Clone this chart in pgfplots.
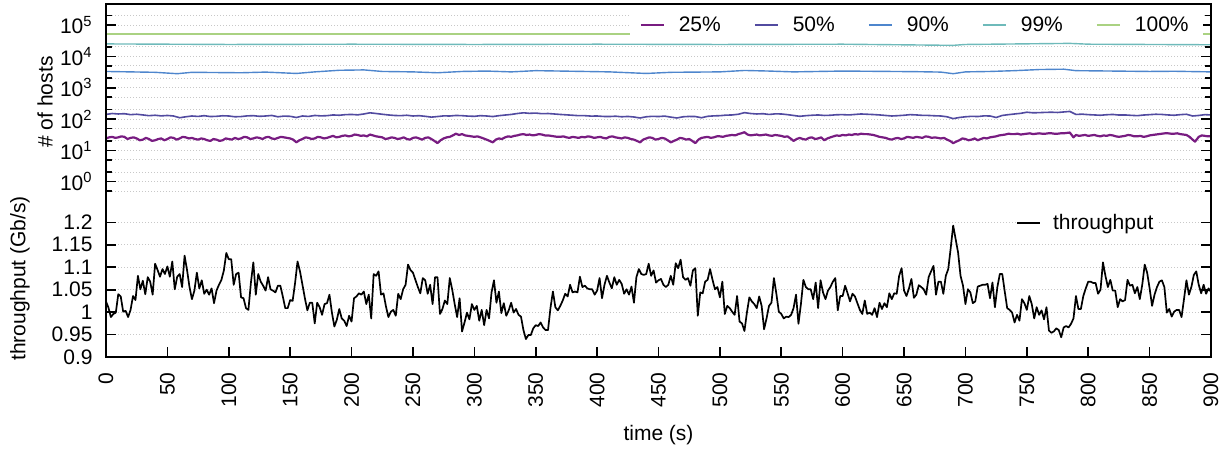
\documentclass[border=0pt]{standalone}
\usepackage{fontspec}
\setmainfont{Liberation Sans}
\usepackage{pgfplots}
\pgfplotsset{compat=1.18}
\usepackage{pgfplotstable}

\definecolor{c25}{RGB}{120,28,129}
\definecolor{c50}{RGB}{82,75,160}
\definecolor{c90}{RGB}{78,134,205}
\definecolor{c99}{RGB}{110,186,186}
\definecolor{c100}{RGB}{170,210,130}
\definecolor{gridgray}{RGB}{200,200,200}

% number of hosts per percentile
\pgfplotstableread{
t v
0 24
2.5 26
5 27
7.5 25
10 26
12.5 28
15 27
17.5 23
20 25
22.5 26
25 24
27.5 21
30 22
32.5 25
35 23
37.5 20
40 21
42.5 23
45 24
47.5 21
50 23
52.5 26
55 25
57.5 22
60 24
62.5 27
65 26
67.5 24
70 25
72.5 23
75 22
77.5 24
80 23
82.5 21
85 20
87.5 23
90 22
92.5 20
95 21
97.5 24
100 23
102.5 22
105 25
107.5 23
110 24
112.5 27
115 26
117.5 23
120 24
122.5 26
125 25
127.5 23
130 26
132.5 27
135 24
137.5 23
140 25
142.5 27
145 26
147.5 25
150 24
152.5 22
155 18
157.5 21
160 23
162.5 26
165 25
167.5 23
170 24
172.5 27
175 26
177.5 24
180 25
182.5 27
185 29
187.5 26
190 27
192.5 29
195 30
197.5 28
200 29
202.5 32
205 31
207.5 29
210 30
212.5 28
215 32
217.5 30
220 28
222.5 27
225 26
227.5 23
230 24
232.5 26
235 25
237.5 23
240 24
242.5 26
245 23
247.5 22
250 25
252.5 26
255 24
257.5 22
260 25
262.5 26
265 23
267.5 20
270 17
272.5 21
275 24
277.5 26
280 27
282.5 30
285 34
287.5 31
290 33
292.5 30
295 29
297.5 28
300 27
302.5 28
305 26
307.5 24
310 22
312.5 20
315 18
317.5 22
320 24
322.5 23
325 26
327.5 28
330 27
332.5 29
335 30
337.5 32
340 33
342.5 31
345 32
347.5 30
350 31
352.5 33
355 32
357.5 30
360 30
362.5 29
365 28
367.5 27
370 27
372.5 28
375 26
377.5 25
380 27
382.5 26
385 25
387.5 27
390 26
392.5 28
395 27
397.5 25
400 26
402.5 27
405 25
407.5 24
410 27
412.5 28
415 26
417.5 25
420 24
422.5 26
425 25
427.5 23
430 22
432.5 20
435 18
437.5 22
440 24
442.5 26
445 25
447.5 22
450 23
452.5 25
455 24
457.5 21
460 18
462.5 20
465 22
467.5 25
470 24
472.5 22
475 23
477.5 20
480 17
482.5 22
485 25
487.5 26
490 27
492.5 25
495 26
497.5 28
500 28
502.5 27
505 29
507.5 30
510 31
512.5 30
515 33
517.5 35
520 38
522.5 32
525 30
527.5 31
530 32
532.5 30
535 31
537.5 32
540 30
542.5 29
545 31
547.5 30
550 29
552.5 27
555 28
557.5 24
560 20
562.5 23
565 25
567.5 23
570 22
572.5 25
575 26
577.5 23
580 24
582.5 26
585 21
587.5 24
590 26
592.5 28
595 30
597.5 29
600 31
602.5 30
605 32
607.5 31
610 33
612.5 32
615 34
617.5 33
620 33
622.5 32
625 31
627.5 29
630 27
632.5 26
635 25
637.5 23
640 22
642.5 24
645 25
647.5 23
650 24
652.5 27
655 26
657.5 25
660 27
662.5 26
665 25
667.5 28
670 27
672.5 25
675 26
677.5 25
680 24
682.5 25
685 22
687.5 20
690 17
692.5 19
695 21
697.5 24
700 23
702.5 21
705 22
707.5 24
710 21
712.5 23
715 25
717.5 24
720 26
722.5 27
725 28
727.5 30
730 31
732.5 32
735 34
737.5 33
740 33
742.5 34
745 32
747.5 33
750 34
752.5 35
755 33
757.5 34
760 35
762.5 34
765 34
767.5 35
770 35
772.5 34
775 34
777.5 35
780 35
782.5 36
785 37
788 26
790 31
792.5 29
795 30
797.5 31
800 29
802.5 30
805 31
807.5 29
810 28
812.5 30
815 29
817.5 31
820 30
822.5 28
825 27
827.5 28
830 29
832.5 31
835 30
837.5 28
840 28
842.5 29
845 27
847.5 28
850 30
852.5 31
855 32
857.5 33
860 34
862.5 35
865 35
867.5 34
870 34
872.5 35
875 33
877.5 32
880 31
882.5 27
885 22
887 19
890 27
892.5 30
895 29
897.5 28
900 28
}\hostsA

\pgfplotstableread{
t v
0 140
5 150
10 145
15 148
20 138
25 142
30 135
35 128
40 132
45 126
50 130
55 125
60 110
65 118
70 125
75 121
80 128
85 120
90 122
95 127
100 125
105 118
110 120
115 126
120 128
125 122
130 125
135 130
140 118
145 124
150 122
155 112
160 125
165 121
170 130
175 126
180 128
185 135
190 132
195 138
200 140
205 136
210 145
215 158
220 150
225 142
230 135
235 130
240 128
245 132
250 125
255 128
260 122
265 115
270 120
275 126
280 125
285 130
290 128
295 124
300 122
305 128
310 125
315 120
320 128
325 134
330 140
335 150
340 158
345 152
350 155
355 148
360 150
365 145
370 140
375 136
380 132
385 128
390 128
395 124
400 125
405 121
410 120
415 123
420 118
425 121
430 116
435 108
440 118
445 122
450 120
455 124
460 115
465 108
470 118
475 121
480 120
485 110
490 122
495 126
500 128
505 133
510 135
515 142
520 160
525 150
530 145
535 148
540 140
545 146
550 145
555 138
560 130
565 122
570 128
575 132
580 135
585 130
590 132
595 137
600 138
605 135
610 140
615 145
620 142
625 139
630 135
635 130
640 125
645 128
650 132
655 138
660 135
665 131
670 130
675 127
680 125
685 118
690 103
695 112
700 118
705 122
710 120
715 126
720 125
725 112
730 130
735 138
740 145
745 152
750 165
755 158
760 160
765 163
770 165
775 162
780 168
785 175
790 140
795 143
800 138
805 135
810 132
815 137
820 140
825 134
830 135
835 131
840 128
845 134
850 138
855 142
860 140
865 135
870 132
875 138
880 142
885 125
890 130
895 138
900 135
}\hostsB

\pgfplotstableread{
t v
0 3300
20 3200
40 3100
58 2800
70 3100
90 3050
110 3000
130 3150
155 2850
170 3200
190 3600
210 3700
225 3300
250 3200
270 3000
290 3300
310 3400
330 3200
350 3500
370 3400
390 3300
410 3200
440 2850
460 3100
480 3150
500 3200
520 3550
540 3400
560 3200
580 3300
600 3400
620 3350
640 3300
660 3250
680 3150
690 2800
700 3200
720 3300
740 3500
760 3800
780 3900
790 3500
820 3400
850 3300
870 3350
900 3200
}\hostsC

\pgfplotstableread{
t v
0 25000
100 24000
200 24500
300 24000
400 24500
500 24000
600 24500
690 22500
700 24000
785 26000
800 24500
900 23500
}\hostsD

\pgfplotstableread{
t v
0 52000
900 52000
}\hostsE

% throughput, one sample every 2 s
\pgfplotstableread{
t v
0 1.024
2 1.010
4 0.989
6 0.996
8 0.999
10 1.040
12 1.035
14 1.001
16 1.003
18 0.989
20 1.005
22 1.036
24 1.027
26 1.081
28 1.051
30 1.070
32 1.040
34 1.078
36 1.068
38 1.039
40 1.108
42 1.094
44 1.079
46 1.096
48 1.085
50 1.102
52 1.079
54 1.113
56 1.051
58 1.079
60 1.085
62 1.056
64 1.126
66 1.094
68 1.056
70 1.029
72 1.048
74 1.088
76 1.053
78 1.071
80 1.041
82 1.050
84 1.039
86 1.053
88 1.020
90 1.048
92 1.061
94 1.072
96 1.093
98 1.132
100 1.118
102 1.118
104 1.061
106 1.085
108 1.088
110 1.033
112 1.031
114 1.009
116 1.005
118 1.065
120 1.111
122 1.039
124 1.085
126 1.068
128 1.059
130 1.048
132 1.078
134 1.051
136 1.048
138 1.044
140 1.059
142 1.059
144 1.035
146 1.009
148 1.009
150 1.027
152 1.025
154 1.065
156 1.113
158 1.091
160 1.061
162 1.031
164 1.004
166 1.021
168 1.021
170 0.975
172 1.021
174 1.011
176 0.994
178 1.018
180 1.020
182 1.039
184 0.999
186 0.968
188 0.983
190 1.007
192 0.986
194 0.981
196 0.969
198 0.992
200 0.979
202 1.031
204 1.035
206 1.042
208 1.039
210 1.046
212 1.018
214 1.039
216 0.986
218 1.085
220 1.081
222 1.091
224 1.039
226 1.042
228 1.013
230 0.989
232 1.001
234 1.005
236 0.992
238 1.041
240 1.029
242 1.051
244 1.061
246 1.106
248 1.094
250 1.088
252 1.072
254 1.056
256 1.042
258 1.076
260 1.071
262 1.041
264 1.061
266 1.018
268 1.078
270 1.078
272 0.996
274 1.007
276 1.026
278 1.018
280 1.076
282 1.050
284 1.018
286 0.989
288 1.031
290 0.957
292 0.977
294 0.999
296 0.984
298 1.018
300 1.005
302 1.014
304 0.981
306 1.005
308 0.971
310 1.005
312 0.986
314 1.044
316 1.071
318 1.021
320 1.046
322 0.998
324 1.020
326 0.992
328 1.004
330 1.021
332 0.999
334 1.007
336 0.994
338 0.990
340 0.960
342 0.940
344 0.949
346 0.949
348 0.964
350 0.971
352 0.969
354 0.977
356 0.966
358 0.960
360 0.960
362 1.009
364 1.046
366 1.011
368 1.004
370 1.014
372 1.026
374 1.041
376 1.035
378 1.061
380 1.044
382 1.046
384 1.044
386 1.079
388 1.056
390 1.059
392 1.053
394 1.051
396 1.051
398 1.039
400 1.048
402 1.076
404 1.031
406 1.061
408 1.081
410 1.066
412 1.053
414 1.078
416 1.061
418 1.072
420 1.063
422 1.041
424 1.051
426 1.039
428 1.057
430 1.021
432 1.078
434 1.096
436 1.085
438 1.083
440 1.085
442 1.108
444 1.081
446 1.093
448 1.066
450 1.071
452 1.074
454 1.061
456 1.056
458 1.061
460 1.081
462 1.061
464 1.109
466 1.098
468 1.117
470 1.078
472 1.072
474 1.076
476 1.059
478 1.093
480 1.098
482 0.992
484 1.044
486 1.042
488 1.068
490 1.072
492 1.096
494 1.072
496 1.051
498 1.056
500 1.033
502 1.068
504 0.996
506 1.014
508 1.009
510 1.001
512 0.994
514 1.036
516 0.979
518 0.975
520 0.958
522 0.999
524 1.033
526 1.024
528 1.018
530 1.009
532 1.035
534 1.014
536 0.962
538 0.986
540 1.014
542 1.021
544 1.076
546 1.041
548 1.001
550 0.996
552 0.986
554 0.990
556 0.989
558 0.994
560 1.009
562 1.039
564 0.974
566 1.018
568 1.072
570 1.056
572 1.051
574 1.051
576 1.029
578 1.066
580 1.009
582 1.071
584 1.044
586 1.029
588 1.048
590 1.056
592 1.068
594 1.076
596 1.004
598 1.036
600 1.036
602 1.059
604 1.042
606 1.024
608 1.041
610 1.035
612 1.020
614 1.005
616 0.996
618 1.026
620 0.996
622 0.999
624 0.994
626 1.009
628 0.989
630 1.021
632 1.007
634 1.020
636 1.011
638 1.042
640 1.029
642 1.042
644 1.041
646 1.081
648 1.098
650 1.048
652 1.036
654 1.053
656 1.074
658 1.032
660 1.039
662 1.060
664 1.056
666 1.051
668 1.039
670 1.078
672 1.091
674 1.103
676 1.039
678 1.068
680 1.068
682 1.041
684 1.081
686 1.096
688 1.143
690 1.193
692 1.163
694 1.133
696 1.081
698 1.059
700 1.018
702 1.051
704 1.044
706 1.020
708 1.024
710 1.057
712 1.059
714 1.061
716 1.061
718 1.063
720 1.031
722 1.066
724 1.011
726 1.056
728 1.085
730 1.085
732 1.046
734 1.009
736 1.005
738 0.999
740 0.977
742 0.994
744 0.981
746 1.029
748 1.020
750 1.005
752 1.036
754 1.018
756 0.986
758 1.011
760 0.994
762 1.004
764 0.984
766 1.011
768 0.959
770 0.954
772 0.957
774 0.964
776 0.960
778 0.944
780 0.966
782 0.969
784 0.966
786 0.974
788 0.986
790 1.036
792 1.007
794 1.007
796 1.036
798 1.053
800 1.068
802 1.068
804 1.065
806 1.065
808 1.041
810 1.050
812 1.111
814 1.081
816 1.056
818 1.072
820 1.048
822 1.048
824 1.011
826 1.029
828 1.024
830 1.027
832 1.072
834 1.059
836 1.061
838 1.042
840 1.056
842 1.029
844 1.061
846 1.106
848 1.088
850 1.053
852 1.014
854 1.039
856 1.056
858 1.068
860 1.071
862 1.056
864 0.999
866 1.007
868 0.990
870 1.001
872 1.005
874 1.005
876 0.989
878 1.029
880 1.071
882 1.039
884 1.056
886 1.083
888 1.091
890 1.061
892 1.042
894 1.061
896 1.041
898 1.053
900 1.045
}\throughput

\pgfplotsset{
  panel/.style={
    scale only axis,
    width=552.5pt,
    xmin=0, xmax=900,
    axis line style={draw=none},
    tick align=inside,
    major tick length=5pt,
    minor tick length=3pt,
    every tick/.style={black, line width=0.8pt},
    ymajorgrids,
    major grid style={gridgray, line width=0.5pt, dash pattern=on 0.5pt off 1pt},
    minor grid style={gridgray, line width=0.5pt, dash pattern=on 0.5pt off 1pt},
    /pgf/number format/assume math mode=true,
    yticklabel style={xshift=-3pt},
    ylabel style={anchor=center, inner sep=0pt},
    legend image code/.code={\draw[##1, line width=1pt] (0pt,0pt) -- (11.5pt,0pt);},
  },
}

\begin{document}
\fontsize{10.5}{12.6}\selectfont
\begin{tikzpicture}
\begin{axis}[panel,
  name=top,
  height=98pt,
  ymode=log, log basis y=10,
  ymin=0.26, ymax=4.7e5,
  xtick=\empty,
  ytick={1,10,100,1000,10000,100000},
  yticklabels={10\textsuperscript{0},10\textsuperscript{1},10\textsuperscript{2},10\textsuperscript{3},10\textsuperscript{4},10\textsuperscript{5}},
  minor ytick={0.5,2,5,20,50,200,500,2000,5000,20000,50000,200000},
  yminorgrids,
  ylabel={\# of hosts},
  ylabel style={at={(axis description cs:-0.0552,0.5)}},
  legend columns=-1,
  legend style={at={(1,1)}, anchor=north east, xshift=-4pt, yshift=-4.5pt,
    draw=none, fill=white, inner xsep=5pt, inner ysep=0pt,
    nodes={inner ysep=1.5pt},
    /tikz/every odd column/.append style={column sep=5pt},
    /tikz/every even column/.append style={column sep=14.5pt}},
]
\addplot[c25, line width=1.1pt, line join=round] table[x=t, y=v] {\hostsA};
\addlegendentry{25\%}
\addplot[c50, line width=0.8pt, line join=round] table[x=t, y=v] {\hostsB};
\addlegendentry{50\%}
\addplot[c90, line width=0.7pt, line join=round] table[x=t, y=v] {\hostsC};
\addlegendentry{90\%}
\addplot[c99, line width=0.7pt, line join=round] table[x=t, y=v] {\hostsD};
\addlegendentry{99\%}
\addplot[c100, line width=0.8pt] table[x=t, y=v] {\hostsE};
\addlegendentry{100\%}
\end{axis}

\begin{axis}[panel,
  name=bot,
  at={(top.south west)}, anchor=north west,
  height=78.5pt,
  ymin=0.9, ymax=1.25,
  ytick={0.9,0.95,1,1.05,1.1,1.15,1.2},
  xtick={0,50,...,900},
  xtick pos=left,
  xticklabel style={yshift=-4pt, rotate=90, anchor=east},
  xlabel={time (s)},
  xlabel style={at={(axis description cs:0.5,-0.497)}, anchor=center},
  ylabel={throughput (Gb/s)},
  ylabel style={at={(axis description cs:-0.0778,0.5)}},
  legend style={at={(axis description cs:0.952,0.853)}, anchor=east,
    draw=none, fill=white, inner xsep=0pt, inner ysep=1pt,
    /tikz/every odd column/.append style={column sep=4pt}},
]
\addplot[black, line width=0.85pt, line join=round] table[x=t, y=v] {\throughput};
\addlegendentry{throughput}
\end{axis}

\draw[line width=0.85pt] (top.north west) rectangle (bot.south east);

\pgfresetboundingbox
\path[use as bounding box] ([shift={(-53pt,2pt)}]top.north west) rectangle ([shift={(9.5pt,-47pt)}]bot.south east);
\end{tikzpicture}
\end{document}
